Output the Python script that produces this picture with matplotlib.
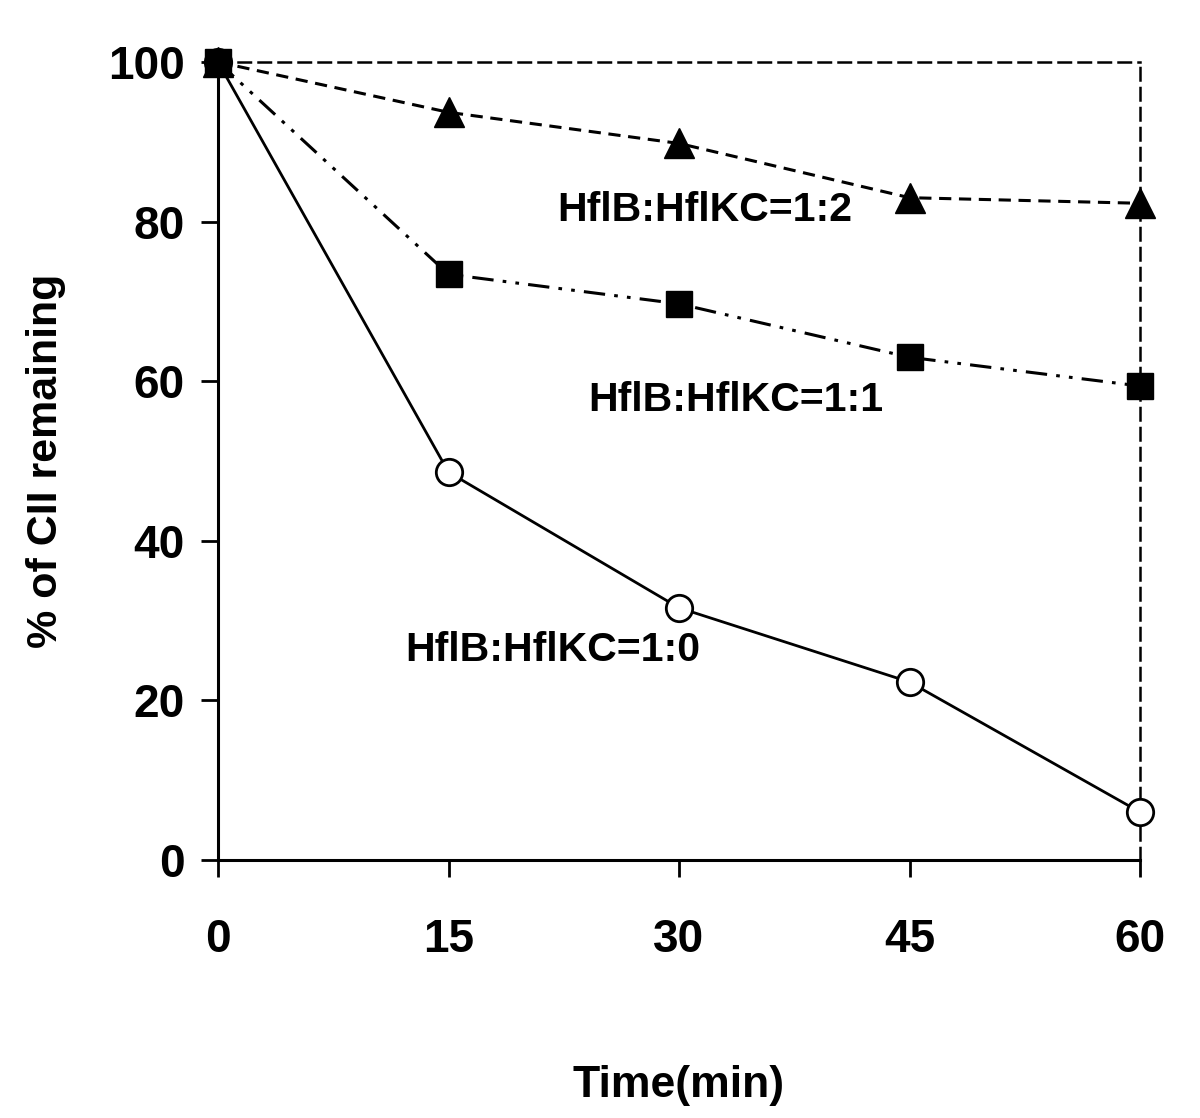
import matplotlib
matplotlib.use("Agg")
import matplotlib.pyplot as plt

# data
time = [0, 15, 30, 45, 60]
ratio_1_0 = [100, 48.6, 31.6, 22.3, 6.0]
ratio_1_1 = [100, 73.4, 69.7, 63.0, 59.4]
ratio_1_2 = [100, 93.7, 89.8, 83.0, 82.3]
labels = ["HflB:HflKC=1:0", "HflB:HflKC=1:1", "HflB:HflKC=1:2"]
xticks = [0, 15, 30, 45, 60]
yticks = [0, 20, 40, 60, 80, 100]

plt.rcParams["font.family"] = ["Liberation Sans", "DejaVu Sans"]

fig = plt.figure(figsize=(12, 11.18), dpi=100)
ax = fig.add_axes([0.1817, 0.2308, 0.7683, 0.7137])

ax.plot(time, ratio_1_2, ls=(0, (4, 2.5)), lw=2.2, color="black",
        marker="^", ms=21, mfc="black", mec="black", zorder=3, clip_on=False)
ax.plot(time, ratio_1_1, ls=(0, (7, 3, 1.2, 3, 1.2, 3)), lw=2.2, color="black",
        marker="s", ms=19, mfc="black", mec="black", zorder=4, clip_on=False)
ax.plot(time, ratio_1_0, ls="-", lw=2.0, color="black",
        marker="o", ms=19, mfc="white", mec="black", mew=2, zorder=3, clip_on=False)

ax.text(12.2, 26.3, labels[0], fontsize=29.5, fontweight="bold", va="center")
ax.text(24.1, 57.6, labels[1], fontsize=29.5, fontweight="bold", va="center")
ax.text(22.1, 81.5, labels[2], fontsize=29.5, fontweight="bold", va="center")

ax.set_xlim(0, 60)
ax.set_ylim(0, 100)
ax.set_xticks(xticks)
ax.set_yticks(yticks)
ax.set_xticklabels([str(t) for t in xticks], fontsize=33, fontweight="bold")
ax.set_yticklabels([str(t) for t in yticks], fontsize=33, fontweight="bold")
ax.tick_params(axis="both", direction="out", length=12, width=2, color="black")
ax.tick_params(axis="x", pad=30)
ax.tick_params(axis="y", pad=12)

for side in ["left", "bottom"]:
    ax.spines[side].set_linewidth(2.2)
for side in ["top", "right"]:
    ax.spines[side].set_linestyle((0, (5, 3)))
    ax.spines[side].set_linewidth(1.8)

ax.set_xlabel("Time(min)", fontsize=32, fontweight="bold", labelpad=74)
ax.set_ylabel("% of CII remaining", fontsize=31, fontweight="bold", labelpad=30)

fig.savefig("out.png", dpi=100)
